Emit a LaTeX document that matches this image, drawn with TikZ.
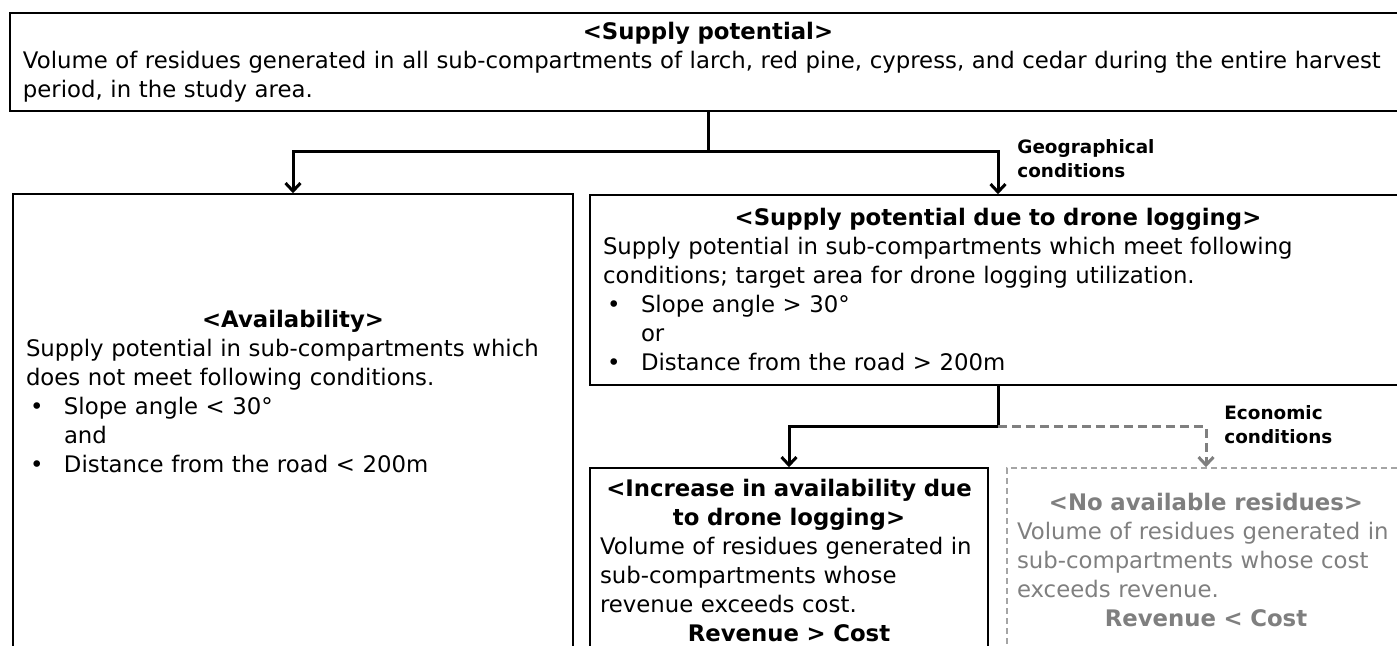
\documentclass[tikz,border=0pt]{standalone}
\usepackage{fontspec}
\setmainfont{DejaVu Sans}
\usepackage{xcolor}
\definecolor{flowgray}{RGB}{127,127,127}
\definecolor{flowgraylight}{RGB}{165,165,165}
\usepackage{tikz}
\usetikzlibrary{arrows.meta, positioning}

\newcommand{\bodysize}{\fontsize{11.4}{14.5}\selectfont}
\newcommand{\condsize}{\fontsize{9.2}{12}\selectfont}
\newcommand{\ctrline}[1]{\makebox[\linewidth]{#1}}
\newcommand{\bulline}[1]{\makebox[19pt][l]{\hspace{2pt}\textbullet}#1}
\newcommand{\indline}[1]{\hspace*{19pt}#1}

\begin{document}
\begin{tikzpicture}[x=0.5pt, y=0.5pt,
  box/.style={draw, line width=0.75pt, inner xsep=6.5pt, inner ysep=0pt,
              align=left, font=\bodysize},
  boxtext/.style={inner sep=0pt, align=left, font=\bodysize},
  ghostbox/.style={box, draw=flowgraylight, dash pattern=on 3pt off 2pt, text=flowgray},
  link/.style={line width=1.5pt, -{Straight Barb[length=4pt, width=7.5pt]}},
  ghostlink/.style={link, draw=flowgray, dash pattern=on 4.5pt off 2.5pt},
  condlabel/.style={font=\condsize\bfseries, align=left, inner sep=0pt, anchor=west}]

\useasboundingbox (0,0) rectangle (1397,-646);
\clip (0,0) rectangle (1397,-646);

% --- Supply potential (top) ---
\node[box, minimum width=698pt, minimum height=49pt, text width=685pt] (supply) at (708,-62)
  {\ctrline{\textbf{<Supply potential>}}\\
   Volume of residues generated in all sub-compartments of larch, red pine, cypress, and cedar during the entire harvest\\
   period, in the study area.};

% --- Availability (left) ---
\node[box, minimum width=280pt, minimum height=229pt] (avail) at (293,-423) {};
\node[boxtext, text width=267pt] (availtext) at (293,-392)
  {\ctrline{\textbf{<Availability>}}\\
   Supply potential in sub-compartments which\\
   does not meet following conditions.\\
   \bulline{Slope angle < 30°}\\
   \indline{and}\\
   \bulline{Distance from the road < 200m}};

% --- Supply potential due to drone logging (right) ---
\node[box, minimum width=408pt, minimum height=95pt, text width=395pt] (drone) at (998,-290)
  {\ctrline{\textbf{<Supply potential due to drone logging>}}\\
   Supply potential in sub-compartments which meet following\\
   conditions; target area for drone logging utilization.\\
   \bulline{Slope angle > 30°}\\
   \indline{or}\\
   \bulline{Distance from the road > 200m}};

% --- Increase in availability (bottom middle) ---
\node[box, minimum width=199pt, minimum height=92pt, inner xsep=5pt, text width=189pt] (gain) at (789,-560)
  {\ctrline{\textbf{<Increase in availability due}}\\
   \ctrline{\textbf{to drone logging>}}\\
   Volume of residues generated in\\
   sub-compartments whose\\
   revenue exceeds cost.\\
   \ctrline{\textbf{Revenue > Cost}}};

% --- No available residues (bottom right, dashed) ---
\node[ghostbox, minimum width=199pt, minimum height=92pt, inner xsep=5pt, text width=189pt] (loss) at (1206,-560)
  {\ctrline{\textbf{<No available residues>}}\\
   Volume of residues generated in\\
   sub-compartments whose cost\\
   exceeds revenue.\\
   \ctrline{\textbf{Revenue < Cost}}};

% --- Connectors ---
\coordinate (split) at (708,-152);
\draw[link] (supply.south) -- (split) -| (avail.north);
\draw[link] (split) -| (drone.north);
\node[condlabel] (geo) at (1017,-159) {Geographical\\conditions};

\coordinate (split2) at (998,-427);
\draw[link] (drone.south) -- (split2) -| (gain.north);
\draw[ghostlink] (split2) -| (loss.north);
\node[condlabel] (econ) at (1224,-425) {Economic\\conditions};

\end{tikzpicture}
\end{document}
